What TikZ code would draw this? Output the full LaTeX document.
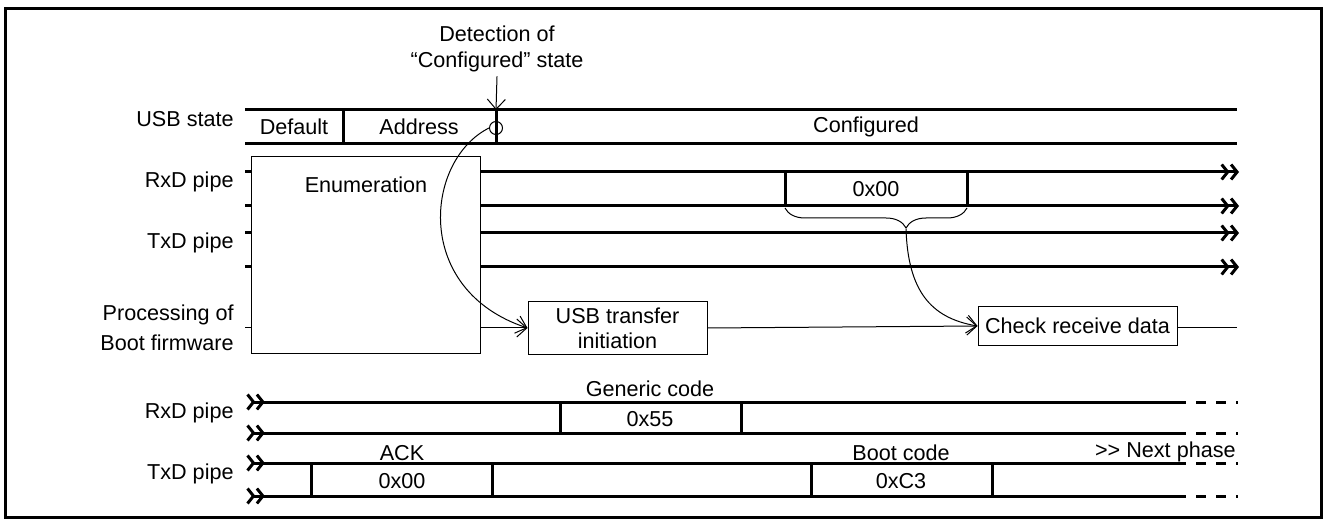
\documentclass[tikz,border=0pt]{standalone}
\usepackage{fontspec}
\setmainfont{Liberation Sans}
\usetikzlibrary{positioning, arrows.meta, decorations.pathreplacing, calc}

\begin{document}
\begin{tikzpicture}[x=0.5pt, y=-0.5pt, font=\fontsize{10.8}{12.5}\selectfont,
  thinline/.style={line width=0.5pt},
  sig/.style={line width=1.5pt},
  box/.style={draw, line width=0.5pt, rectangle, align=center, inner sep=0pt},
  lbl/.style={inner sep=0pt, align=right, anchor=east},
  tip/.style={-{Straight Barb[length=5pt,width=9pt]}},
  dbl/.style={-{Straight Barb[length=3pt,width=7.5pt]Straight Barb[length=3pt,width=7.5pt]}},
  dblin/.style={{Straight Barb[reversed,length=3pt,width=7.5pt]Straight Barb[reversed,length=3pt,width=7.5pt]}-},
  tail/.style={line width=1.5pt, dash pattern=on 5pt off 5pt}]
  \useasboundingbox (0,0) rectangle (1326,523);
  \draw[line width=1.5pt] (5,9) rectangle (1321,517);

  % labels on the left
  \node[lbl] (lusb) at (234,119) {USB state};
  \node[lbl] (lrx) at (234,182) {RxD pipe};
  \node[lbl] (ltx) at (234,243) {TxD pipe};
  \node[lbl, font=\fontsize{10.8}{15}\selectfont] (lproc) at (234,328) {Processing of\\Boot firmware};
  \node[lbl] (lrx2) at (234,413) {RxD pipe};
  \node[lbl] (ltx2) at (234,474) {TxD pipe};

  % USB state
  \draw[sig] (245,110) -- (1237,110) (245,144) -- (1237,144)
    (343,110) -- (343,144) (496,110) -- (496,144);
  \node (sdef) at (294,127) {Default};
  \node (sadr) at (419,127) {Address};
  \node (scfg) at (866,127) {Configured};
  \node[circle, draw, thinline, minimum size=6.5pt, inner sep=0pt] (det) at (496,128) {};
  \node[align=center, inner sep=0pt, font=\fontsize{10.8}{13}\selectfont] (dtext) at (497,49) {Detection of\\“Configured” state};
  \coordinate (dtop) at (496,110);
  \path[thinline, tip] ([yshift=-2pt]dtext.south) edge (dtop);

  % enumeration phase
  \node[box, minimum width=114.5pt, minimum height=98pt] (enum) at (365.5,255) {};
  \node (enumt) at (366,185) {Enumeration};
  \foreach \y in {172,206,233,267}{
    \draw[sig] (245,\y) -- (enum.west |- 0,\y);
    \draw[sig, dbl] (enum.east |- 0,\y) -- (1239,\y);
  }
  \draw[sig] (785,172) -- (785,206) (967,172) -- (967,206);
  \node (rx0) at (876,189) {0x00};
  \draw[thinline, decorate, decoration={brace, mirror, amplitude=10pt, aspect=0.665}]
    (785,208) -- (967,208);
  \coordinate (brtip) at (906,229);

  % boot firmware
  \node[box, minimum width=89.5pt, minimum height=26pt] (usbx) at (617.5,328) {USB transfer\\initiation};
  \node[box, minimum width=99.5pt, minimum height=19pt] (chk) at (1077.5,326) {Check receive data};
  \coordinate (pend) at (1237,328);
  \draw[thinline] (245,328) -- (enum.west |- usbx.west);
  \path[thinline, tip]
    (enum.east |- usbx.west) edge (usbx.west)
    (usbx.east) edge (chk.west);
  \draw[thinline, tip] (det.west) .. controls (425,160) and (412,290) .. (usbx.west);
  \draw[thinline, tip] (brtip) .. controls (908,290) and (930,318) .. (chk.west);
  \draw[thinline] (chk.east |- pend) -- (pend);

  % next phase
  \foreach \y in {402,433,463,496}{
    \draw[sig, dblin] (246,\y) -- (1176,\y);
    \draw[tail] (1176,\y) -- (1238,\y);
  }
  \foreach \xa/\xb/\ya/\yb in {560/741/402/433, 311/492/463/496, 811/992/463/496}
    \draw[sig] (\xa,\ya) -- (\xa,\yb) (\xb,\ya) -- (\xb,\yb);
  \node (gen) at (650,389) {Generic code};
  \node (rx55) at (650,419) {0x55};
  \node (ack) at (402,453) {ACK};
  \node (tx0) at (402,481) {0x00};
  \node (boot) at (901,453) {Boot code};
  \node (txc3) at (901,481) {0xC3};
  \node[anchor=east, inner sep=0pt] (next) at (1236,452) {>{}> Next phase};
\end{tikzpicture}
\end{document}
